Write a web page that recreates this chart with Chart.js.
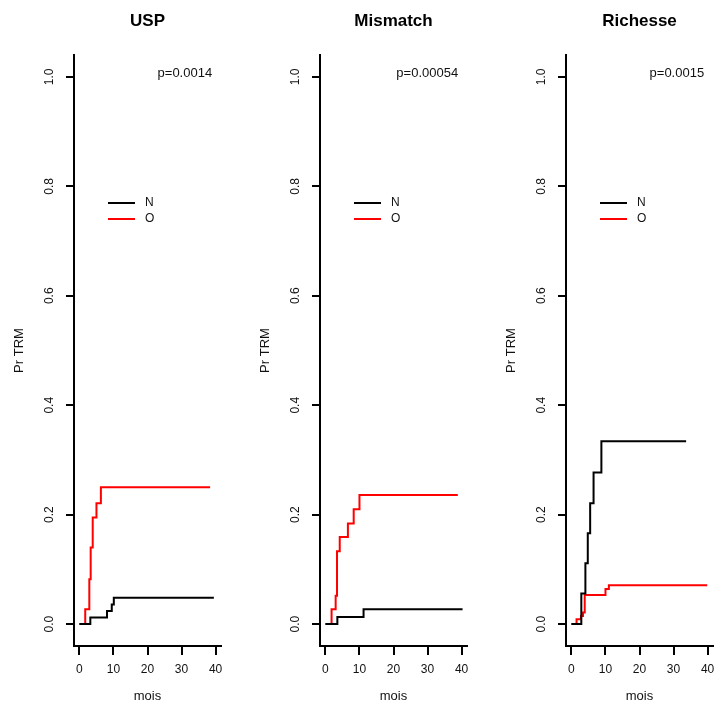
<!DOCTYPE html>
<html>
<head>
<meta charset="utf-8">
<script src="https://cdn.jsdelivr.net/npm/chart.js@4"></script>
<style>
  html, body { margin: 0; padding: 0; background: #fff; }
  #wrap { position: relative; width: 715px; height: 711px; overflow: hidden; }
  canvas { position: absolute; top: 0; }
</style>
</head>
<body>
<div id="wrap">
  <canvas id="c0" width="223" height="711" style="left:0px"></canvas>
  <canvas id="c1" width="223" height="711" style="left:246px"></canvas>
  <canvas id="c2" width="223" height="711" style="left:492px"></canvas>
</div>
<script>
// ---- data ----
const panelTitles = ['USP', 'Mismatch', 'Richesse'];
const pValues = ['p=0.0014', 'p=0.00054', 'p=0.0015'];
const seriesLabels = ['N', 'O'];
const seriesColors = ['#000000', '#ff0000'];
const xTicks = [0, 10, 20, 30, 40];
const yTicks = [0.0, 0.2, 0.4, 0.6, 0.8, 1.0];
const xLabel = 'mois';
const yLabel = 'Pr TRM';

// USP
const uspN_time  = [0, 3.2, 8.1, 9.5, 10.1, 39.5];
const uspN_value = [0, 0.012, 0.024, 0.036, 0.048, 0.048];
const uspO_time  = [0, 1.7, 2.9, 3.3, 3.9, 5.0, 6.3, 38.4];
const uspO_value = [0, 0.027, 0.082, 0.140, 0.195, 0.221, 0.250, 0.250];

// Mismatch
const misN_time  = [0, 3.5, 11.2, 40.3];
const misN_value = [0, 0.013, 0.027, 0.027];
const misO_time  = [0, 1.8, 3.0, 3.4, 4.2, 6.6, 8.3, 10.0, 38.9];
const misO_value = [0, 0.027, 0.052, 0.133, 0.159, 0.184, 0.210, 0.236, 0.236];

// Richesse
const ricN_time  = [0, 2.9, 4.1, 4.8, 5.5, 6.5, 8.8, 33.7];
const ricN_value = [0, 0.056, 0.111, 0.166, 0.221, 0.277, 0.334, 0.334];
const ricO_time  = [0, 1.5, 2.8, 3.4, 3.9, 10.0, 11.0, 39.9];
const ricO_value = [0, 0.009, 0.015, 0.021, 0.053, 0.064, 0.071, 0.071];

const panels = [
  { N: [uspN_time, uspN_value], O: [uspO_time, uspO_value] },
  { N: [misN_time, misN_value], O: [misO_time, misO_value] },
  { N: [ricN_time, ricN_value], O: [ricO_time, ricO_value] }
];

const FONT = '"Liberation Sans", Arial, Helvetica, sans-serif';
const toPts = (t, v) => t.map((x, i) => ({ x: x, y: v[i] }));

const annotatePlugin = {
  id: 'annotate',
  afterDraw(chart, args, opts) {
    const ctx = chart.ctx;
    const ca = chart.chartArea;
    const xs = chart.scales.x, ys = chart.scales.y;
    ctx.save();
    // panel title
    ctx.fillStyle = '#000';
    ctx.font = 'bold 17px ' + FONT;
    ctx.textAlign = 'center';
    ctx.textBaseline = 'middle';
    ctx.fillText(opts.title, (ca.left + ca.right) / 2, 21);
    // p value (right aligned near x = 39)
    ctx.font = '13px ' + FONT;
    ctx.textAlign = 'right';
    ctx.fillStyle = '#111';
    ctx.fillText(opts.p, xs.getPixelForValue(39), ys.getPixelForValue(1.0) - 3);
    // legend
    ctx.font = '12px ' + FONT;
    ctx.textAlign = 'left';
    chart.data.datasets.forEach((ds, i) => {
      const y = 203 + i * 16;
      ctx.strokeStyle = ds.borderColor;
      ctx.lineWidth = 2;
      ctx.beginPath();
      ctx.moveTo(ca.left + 34, y);
      ctx.lineTo(ca.left + 61, y);
      ctx.stroke();
      ctx.fillStyle = '#111';
      ctx.fillText(ds.label, ca.left + 71, y);
    });
    ctx.restore();
  }
};

panels.forEach((p, k) => {
  const ctx = document.getElementById('c' + k).getContext('2d');
  new Chart(ctx, {
    type: 'line',
    data: {
      datasets: [
        { label: seriesLabels[0], data: toPts(p.N[0], p.N[1]), borderColor: seriesColors[0] },
        { label: seriesLabels[1], data: toPts(p.O[0], p.O[1]), borderColor: seriesColors[1] }
      ].map(d => Object.assign(d, {
        stepped: 'before', borderWidth: 2, pointRadius: 0, fill: false, tension: 0
      }))
    },
    options: {
      responsive: false,
      animation: false,
      devicePixelRatio: 1,
      layout: { padding: { top: 55, right: 2, left: 0, bottom: 0 } },
      plugins: {
        legend: { display: false },
        tooltip: { enabled: false },
        annotate: { title: panelTitles[k], p: pValues[k] }
      },
      scales: {
        x: {
          type: 'linear',
          min: -1.6, max: 41.6,
          afterBuildTicks: s => { s.ticks = xTicks.map(v => ({ value: v })); },
          afterFit: s => { s.height = 65; s.paddingLeft = 0; s.paddingRight = 0; },
          grid: { drawOnChartArea: false, drawTicks: true, tickLength: 9, color: '#000', lineWidth: 2 },
          border: { display: true, color: '#000', width: 2 },
          ticks: {
            color: '#111', font: { family: FONT, size: 12 }, padding: 7,
            maxRotation: 0, autoSkip: false,
            callback: v => String(v)
          },
          title: {
            display: true, text: xLabel, color: '#111',
            font: { family: FONT, size: 13 }, padding: { top: 0, bottom: 7 }
          }
        },
        y: {
          type: 'linear',
          min: -0.04, max: 1.04,
          afterBuildTicks: s => { s.ticks = yTicks.map(v => ({ value: v })); },
          afterFit: s => { s.width = 74; s.paddingTop = 0; s.paddingBottom = 0; },
          grid: { drawOnChartArea: false, drawTicks: true, tickLength: 8, color: '#000', lineWidth: 2 },
          border: { display: true, color: '#000', width: 2 },
          ticks: {
            color: '#111', font: { family: FONT, size: 12 }, padding: 8,
            minRotation: 90, maxRotation: 90, crossAlign: 'center', autoSkip: false,
            callback: v => Number(v).toFixed(1)
          },
          title: {
            display: true, text: yLabel, color: '#111',
            font: { family: FONT, size: 13 }, padding: { top: 12, bottom: 0 }
          }
        }
      }
    },
    plugins: [annotatePlugin]
  });
});
</script>
</body>
</html>
